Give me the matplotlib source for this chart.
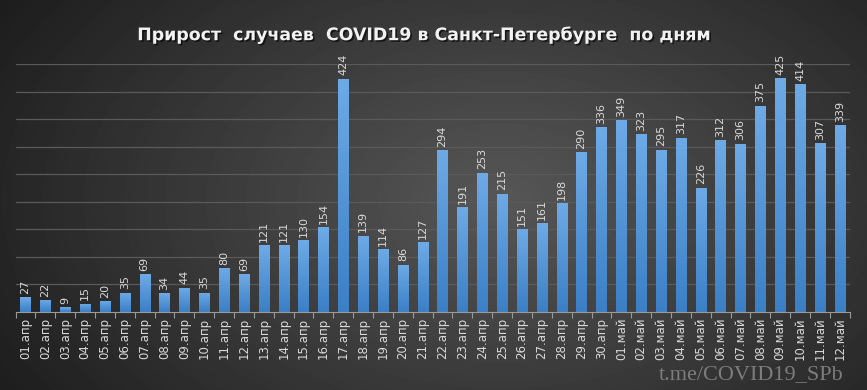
import numpy as np
import matplotlib.pyplot as plt
import matplotlib.patheffects as pe
from matplotlib.colors import LinearSegmentedColormap

days = ['01.апр', '02.апр', '03.апр', '04.апр', '05.апр', '06.апр', '07.апр', '08.апр',
        '09.апр', '10.апр', '11.апр', '12.апр', '13.апр', '14.апр', '15.апр', '16.апр',
        '17.апр', '18.апр', '19.апр', '20.апр', '21.апр', '22.апр', '23.апр', '24.апр',
        '25.апр', '26.апр', '27.апр', '28.апр', '29.апр', '30.апр', '01.май', '02.май',
        '03.май', '04.май', '05.май', '06.май', '07.май', '08.май', '09.май', '10.май',
        '11.май', '12.май']
cases = [27, 22, 9, 15, 20, 35, 69, 34, 44, 35, 80, 69, 121, 121, 130, 154, 424, 139,
         114, 86, 127, 294, 191, 253, 215, 151, 161, 198, 290, 336, 349, 323, 295, 317,
         226, 312, 306, 375, 425, 414, 307, 339]

fig = plt.figure(figsize=(8.67, 3.9), dpi=100)

# radial background
bg = fig.add_axes([0, 0, 1, 1], zorder=-10)
yy, xx = np.mgrid[0:390, 0:867]
r = np.sqrt(((xx - 500) / 520.0) ** 2 + ((yy - 200) / 330.0) ** 2)
shade = np.clip(0.34 - 0.2 * r, 0.11, 0.34)
bg.imshow(shade, cmap='gray', vmin=0, vmax=1, aspect='auto', extent=[0, 1, 0, 1])
bg.axis('off')

ax = fig.add_axes([0.018, 0.2, 0.962, 0.635])
ax.patch.set_alpha(0)
x = np.arange(len(days))
bars = ax.bar(x, cases, width=0.52, color='#4a8fd6', zorder=3)

# vertical gradient on each bar
grad = np.linspace(0, 1, 100).reshape(-1, 1)
cm = LinearSegmentedColormap.from_list('b', ['#3b7fc6', '#6eaae6'])
for b in bars:
    bx, by = b.get_x(), b.get_y()
    w, h = b.get_width(), b.get_height()
    im = ax.imshow(grad, cmap=cm, aspect='auto', origin='lower',
                   extent=[bx, bx + w, by, by + h], zorder=4)
    im.set_clip_path(b)

for xi, v in zip(x, cases):
    ax.text(xi, v + 6, str(v), rotation=90, ha='center', va='bottom',
            fontsize=8, color='#d9d9d9', zorder=5)

ax.set_xlim(-0.5, len(days) - 0.5)
ax.set_ylim(0, 450)
ax.set_yticks(np.arange(50, 451, 50))
ax.yaxis.grid(True, color='#5a5a5a', linewidth=0.9, zorder=0)
ax.tick_params(axis='y', left=False, labelleft=False)
ax.set_xticks(x)
ax.set_xticklabels(days, rotation=90, fontsize=8.5, color='#d9d9d9')
ax.tick_params(axis='x', length=0, pad=4)
ax.set_xticks(np.arange(-0.5, len(days), 1), minor=True)
ax.tick_params(axis='x', which='minor', length=4, color='#9a9a9a', width=0.8)
for s in ['top', 'right', 'left']:
    ax.spines[s].set_visible(False)
ax.spines['bottom'].set_color('#9a9a9a')
ax.spines['bottom'].set_zorder(6)

fig.text(0.49, 0.91, 'Прирост  случаев  COVID19 в Санкт-Петербурге  по дням',
         ha='center', va='center', fontsize=12.5, fontweight='bold', color='#f2f2f2',
         path_effects=[pe.withSimplePatchShadow(offset=(1.2, -1.2), shadow_rgbFace='#000000', alpha=0.6)])

fig.text(0.973, 0.028, 't.me/COVID19_SPb', ha='right', va='baseline',
         fontsize=16, family='Liberation Serif', color='#7c7c7c')

fig.savefig('out.png', dpi=100)
